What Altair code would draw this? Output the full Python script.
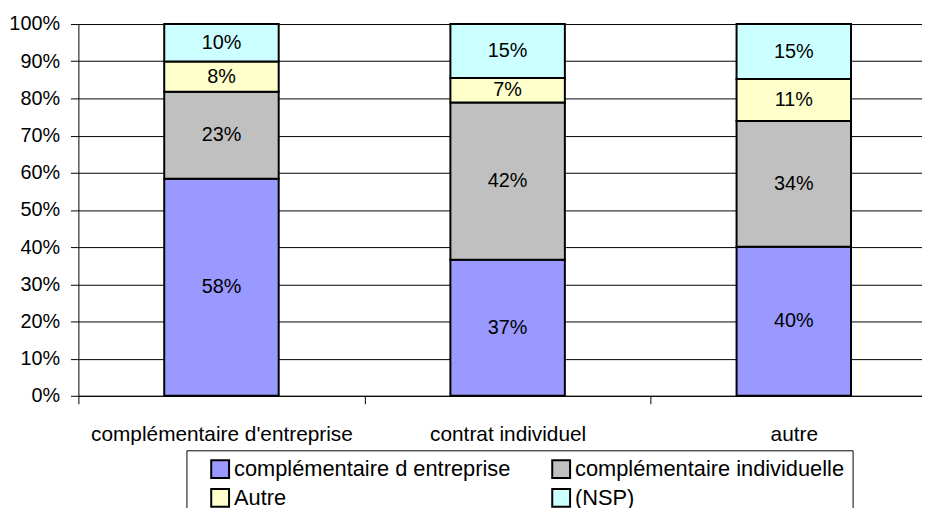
import altair as alt
import pandas as pd

FONT = "Liberation Sans, Arial, sans-serif"

categories = ["complémentaire d'entreprise", "contrat individuel", "autre"]
series = ["complémentaire d entreprise", "complémentaire individuelle", "Autre", "(NSP)"]
colors = ["#9999FF", "#C0C0C0", "#FFFFCC", "#CCFFFF"]

# share of each answer (%) per category
v_entreprise = [58.4, 36.6, 40.1]
v_individuelle = [23.4, 42.3, 33.8]
v_autre = [8.1, 6.6, 11.3]
v_nsp = [10.1, 14.5, 14.8]

# labels printed in the bars
l_entreprise = ["58%", "37%", "40%"]
l_individuelle = ["23%", "42%", "34%"]
l_autre = ["8%", "7%", "11%"]
l_nsp = ["10%", "15%", "15%"]

y_ticks = [0, 10, 20, 30, 40, 50, 60, 70, 80, 90, 100]

rows = []
for order, (s, vals, labs) in enumerate(zip(
        series,
        [v_entreprise, v_individuelle, v_autre, v_nsp],
        [l_entreprise, l_individuelle, l_autre, l_nsp])):
    for c, v, lab in zip(categories, vals, labs):
        rows.append({"cat": c, "series": s, "value": v, "label": lab, "order": order})
df = pd.DataFrame(rows)

base = alt.Chart(df).transform_stack(
    stack="value", groupby=["cat"], as_=["y0", "y1"],
    sort=[alt.SortField("order", order="ascending")]
).transform_calculate(mid="(datum.y0 + datum.y1) / 2")

x_axis = alt.Axis(labelAngle=0, tickBand="extent", domainColor="black", tickColor="black",
                  tickSize=8, labelPadding=20, labelFontSize=21, labelFont=FONT,
                  labelColor="black", labelLimit=0, labelOverlap=False)
x_scale = alt.Scale(range=[0, 866], paddingInner=0, paddingOuter=0)

y_axis = alt.Axis(values=y_ticks, tickCount=11, labelExpr="datum.value + '%'", grid=True,
                  gridColor="black", gridOpacity=1, gridWidth=1,
                  domainColor="black", tickColor="black", tickSize=8,
                  labelPadding=11, labelFontSize=20, labelFont=FONT,
                  labelColor="black", labelOverlap=False)
y_scale = alt.Scale(domain=[0, 100])

pad_label = "datum.label == 'complémentaire individuelle' ? datum.label + '" + "\u00a0" * 8 + "' : datum.label"

bars = base.mark_bar(stroke="black", strokeWidth=2, width=alt.RelativeBandSize(0.4)).encode(
    x=alt.X("cat:N", sort=categories, title=None, scale=x_scale, axis=x_axis),
    y=alt.Y("y0:Q", scale=y_scale, title=None, axis=y_axis),
    y2="y1:Q",
    color=alt.Color("series:N", scale=alt.Scale(domain=series, range=colors),
                    legend=alt.Legend(orient="none", legendX=109, legendY=430, columns=2,
                                      direction="horizontal",
                                      title=None, strokeColor="black", fillColor="white",
                                      padding=8, symbolType="square", symbolSize=324,
                                      symbolStrokeColor="black", symbolStrokeWidth=2,
                                      symbolOffset=15, labelFontSize=22, labelFont=FONT,
                                      labelColor="black", labelOffset=3, columnPadding=25,
                                      rowPadding=3, labelLimit=0,
                                      labelExpr=pad_label)),
)

texts = base.mark_text(fontSize=20, font=FONT, color="black", baseline="middle").encode(
    x=alt.X("cat:N", sort=categories, title=None, scale=x_scale, axis=x_axis),
    y=alt.Y("mid:Q", scale=y_scale, title=None, axis=y_axis),
    text="label:N",
)

chart = alt.layer(bars, texts).properties(
    width=851, height=375,
    padding={"left": 71, "top": 14, "right": 0, "bottom": 111},
    autosize=alt.AutoSizeParams(type="none"),
).configure_view(stroke=None)

chart.save("out.html", embed_options={"renderer": "svg", "actions": False})
